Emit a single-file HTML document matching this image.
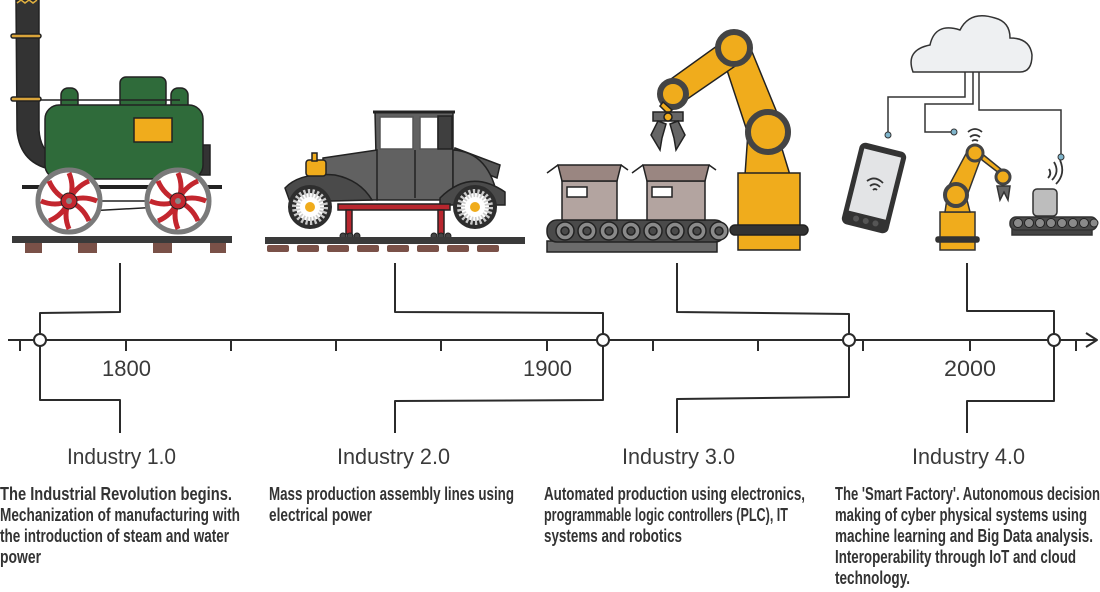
<!DOCTYPE html>
<html><head><meta charset="utf-8"><style>
html,body{margin:0;padding:0;background:#fff;}
svg{display:block;}
.d{font-family:"Liberation Sans Narrow","Liberation Sans",sans-serif;font-size:18px;font-weight:bold;fill:#333;}
.h{font-family:"Liberation Sans",sans-serif;font-size:22px;fill:#3a3a3a;}
</style></head><body>
<svg width="1100" height="592" viewBox="0 0 1100 592" xmlns="http://www.w3.org/2000/svg">
<g stroke="#2b2b2b" stroke-width="2" fill="none" stroke-linejoin="round">
<line x1="8" y1="340" x2="1096" y2="340"/>
<polyline points="1086,333 1097,340 1086,347"/>
<g>
<line x1="20" y1="340" x2="20" y2="351"/><line x1="126" y1="340" x2="126" y2="351"/>
<line x1="231" y1="340" x2="231" y2="351"/><line x1="336" y1="340" x2="336" y2="351"/>
<line x1="441" y1="340" x2="441" y2="351"/><line x1="547" y1="340" x2="547" y2="351"/>
<line x1="653" y1="340" x2="653" y2="351"/><line x1="758" y1="340" x2="758" y2="351"/>
<line x1="863" y1="340" x2="863" y2="351"/><line x1="970" y1="340" x2="970" y2="351"/>
<line x1="1076" y1="340" x2="1076" y2="351"/>
</g>
<polyline points="120,263 120,312 40,313 40,400 120,400 120,433"/>
<polyline points="395,263 395,312 603,313 603,400 395,401 395,433"/>
<polyline points="677,263 677,312 849,314 849,397 677,399 677,433"/>
<polyline points="967,263 967,311 1054,311 1054,401 967,401 967,433"/>
</g>
<g fill="#fff" stroke="#2b2b2b" stroke-width="2">
<circle cx="40" cy="340" r="6"/><circle cx="603" cy="340" r="6"/><circle cx="849" cy="340" r="6"/><circle cx="1054" cy="340" r="6"/>
</g>

<text class="h" x="102" y="376" textLength="49" lengthAdjust="spacingAndGlyphs">1800</text>
<text class="h" x="523" y="376" textLength="49" lengthAdjust="spacingAndGlyphs">1900</text>
<text class="h" x="944" y="376" textLength="52" lengthAdjust="spacingAndGlyphs">2000</text>
<text class="h" x="67" y="464" textLength="109" lengthAdjust="spacingAndGlyphs">Industry 1.0</text>
<text class="h" x="337" y="464" textLength="113" lengthAdjust="spacingAndGlyphs">Industry 2.0</text>
<text class="h" x="622" y="464" textLength="113" lengthAdjust="spacingAndGlyphs">Industry 3.0</text>
<text class="h" x="912" y="464" textLength="113" lengthAdjust="spacingAndGlyphs">Industry 4.0</text>
<g class="d">
<text x="0" y="500" textLength="232" lengthAdjust="spacingAndGlyphs">The Industrial Revolution begins.</text>
<text x="0" y="521" textLength="240" lengthAdjust="spacingAndGlyphs">Mechanization of manufacturing with</text>
<text x="0" y="542" textLength="229" lengthAdjust="spacingAndGlyphs">the introduction of steam and water</text>
<text x="0" y="563" textLength="41" lengthAdjust="spacingAndGlyphs">power</text>
<text x="269" y="500" textLength="245" lengthAdjust="spacingAndGlyphs">Mass production assembly lines using</text>
<text x="269" y="521" textLength="103" lengthAdjust="spacingAndGlyphs">electrical power</text>
<text x="544" y="500" textLength="261" lengthAdjust="spacingAndGlyphs">Automated production using electronics,</text>
<text x="544" y="521" textLength="244" lengthAdjust="spacingAndGlyphs">programmable logic controllers (PLC), IT</text>
<text x="544" y="542" textLength="138" lengthAdjust="spacingAndGlyphs">systems and robotics</text>
<text x="835" y="500" textLength="265" lengthAdjust="spacingAndGlyphs">The 'Smart Factory'. Autonomous decision</text>
<text x="835" y="521" textLength="252" lengthAdjust="spacingAndGlyphs">making of cyber physical systems using</text>
<text x="835" y="542" textLength="258" lengthAdjust="spacingAndGlyphs">machine learning and Big Data analysis.</text>
<text x="835" y="563" textLength="241" lengthAdjust="spacingAndGlyphs">Interoperability through IoT and cloud</text>
<text x="835" y="584" textLength="75" lengthAdjust="spacingAndGlyphs">technology.</text>
</g>

<!-- TRAIN -->
<g stroke="#222" stroke-width="1.5">
<path d="M16,0 L39,0 L39,130 Q40,150 55,158 L55,170 Q20,165 17,130 Z" fill="#333"/>
<path d="M17,3 l4,-3 l4,3 l4,-3 l4,3 l4,-3" stroke="#e0b040" fill="none"/>
<rect x="11" y="34" width="30" height="4" rx="2" fill="#d9a43a"/>
<rect x="11" y="97" width="30" height="4" rx="2" fill="#d9a43a"/>
<rect x="120" y="77" width="46" height="32" rx="6" fill="#2f6b3a"/>
<rect x="61" y="88" width="17" height="24" rx="7" fill="#2f6b3a"/>
<rect x="171" y="88" width="17" height="24" rx="7" fill="#2f6b3a"/>
<line x1="40" y1="100" x2="180" y2="100"/>
<rect x="200" y="145" width="10" height="30" fill="#333"/>
<rect x="45" y="105" width="158" height="74" rx="14" fill="#2f6b3a"/>
<rect x="134" y="118" width="38" height="24" fill="#f0ac1c"/>
<line x1="22" y1="187" x2="222" y2="187" stroke-width="4"/>
<line x1="70" y1="201" x2="178" y2="201"/>
<line x1="70" y1="212" x2="178" y2="206"/>
</g>
<g>
<circle cx="69" cy="201" r="31" fill="#fff" stroke="#7a7a7a" stroke-width="5"/>
<circle cx="178" cy="201" r="31" fill="#fff" stroke="#7a7a7a" stroke-width="5"/>
<g stroke="#c3262e" stroke-width="5" fill="none">
<path d="M69,201 q6,-14 0,-28 M69,201 q14,-6 28,0 M69,201 q-6,14 0,28 M69,201 q-14,6 -28,0 M69,201 q14,6 20,20 M69,201 q-14,-6 -20,-20 M69,201 q6,-14 20,-20 M69,201 q-6,14 -20,20"/>
<path d="M178,201 q6,-14 0,-28 M178,201 q14,-6 28,0 M178,201 q-6,14 0,28 M178,201 q-14,6 -28,0 M178,201 q14,6 20,20 M178,201 q-14,-6 -20,-20 M178,201 q6,-14 20,-20 M178,201 q-6,14 -20,20"/>
</g>
<circle cx="69" cy="201" r="8" fill="#c3262e" stroke="#222"/><circle cx="69" cy="201" r="3" fill="#888"/>
<circle cx="178" cy="201" r="8" fill="#c3262e" stroke="#222"/><circle cx="178" cy="201" r="3" fill="#888"/>
</g>
<rect x="12" y="236" width="220" height="7" fill="#3a3a3a"/>
<g fill="#7a5148">
<rect x="25" y="243" width="17" height="10"/><rect x="78" y="243" width="19" height="10"/>
<rect x="153" y="243" width="19" height="10"/><rect x="210" y="243" width="16" height="10"/>
</g>

<!-- CAR -->
<g stroke="#222" stroke-width="1.5">
<path d="M455,148 L500,165 L497,178 L452,160 Z" fill="#555"/>
<path d="M375,112 L453,112 L453,200 L377,200 Z" fill="#616161"/>
<rect x="380" y="117" width="33" height="32" fill="#fff" stroke="#555"/>
<rect x="420" y="117" width="18" height="32" fill="#fff" stroke="#555"/>
<rect x="438" y="116" width="14" height="33" fill="#3f3f3f"/>
<line x1="373" y1="112" x2="455" y2="112" stroke-width="3"/>
<path d="M323,158 L377,150 L377,200 L323,200 Z" fill="#616161"/>
<path d="M453,150 Q490,152 498,200 L453,200 Z" fill="#616161"/>
<path d="M285,188 Q300,172 335,175 Q360,180 372,200 L290,202 Z" fill="#4a4a4a"/>
<path d="M440,198 Q470,168 505,192 L505,205 L440,205 Z" fill="#4a4a4a"/>
<rect x="306" y="160" width="20" height="16" rx="3" fill="#f0ac1c"/>
<rect x="312" y="153" width="5" height="8" fill="#f0ac1c"/>
<line x1="415" y1="150" x2="415" y2="198"/>
<rect x="338" y="204" width="112" height="6" fill="#b8262e"/>
<rect x="346" y="210" width="6" height="24" fill="#b8262e"/>
<rect x="438" y="210" width="6" height="24" fill="#b8262e"/>
</g>
<g fill="#444" stroke="#222">
<circle cx="343" cy="236" r="3"/><circle cx="350" cy="236" r="3"/><circle cx="357" cy="236" r="3"/>
<circle cx="434" cy="236" r="3"/><circle cx="441" cy="236" r="3"/><circle cx="448" cy="236" r="3"/>
</g>
<g>
<circle cx="310" cy="207" r="22" fill="#2e2e2e"/><circle cx="310" cy="207" r="14" fill="#fff" stroke="#ccc" stroke-dasharray="2 2" stroke-width="8"/><circle cx="310" cy="207" r="5" fill="#f0ac1c"/>
<circle cx="475" cy="207" r="22" fill="#2e2e2e"/><circle cx="475" cy="207" r="14" fill="#fff" stroke="#ccc" stroke-dasharray="2 2" stroke-width="8"/><circle cx="475" cy="207" r="5" fill="#f0ac1c"/>
</g>
<rect x="265" y="237" width="260" height="7" fill="#3a3a3a"/>
<g fill="#7a5148">
<rect x="267" y="245" width="22" height="7" rx="2"/><rect x="297" y="245" width="22" height="7" rx="2"/><rect x="327" y="245" width="22" height="7" rx="2"/><rect x="357" y="245" width="22" height="7" rx="2"/><rect x="387" y="245" width="22" height="7" rx="2"/><rect x="417" y="245" width="22" height="7" rx="2"/><rect x="447" y="245" width="22" height="7" rx="2"/><rect x="477" y="245" width="22" height="7" rx="2"/>
</g>

<!-- FACTORY -->
<g stroke="#222" stroke-width="1.5">
<rect x="547" y="241" width="170" height="11" fill="#6b6b6b"/>
<rect x="547" y="220" width="178" height="22" rx="10" fill="#4a4a4a"/>
<g fill="#8a8a8a"><circle cx="565" cy="231" r="9"/><circle cx="587" cy="231" r="9"/><circle cx="609" cy="231" r="9"/><circle cx="631" cy="231" r="9"/><circle cx="653" cy="231" r="9"/><circle cx="675" cy="231" r="9"/><circle cx="697" cy="231" r="9"/><circle cx="719" cy="231" r="9"/></g>
<g fill="#4a4a4a"><circle cx="565" cy="231" r="4"/><circle cx="587" cy="231" r="4"/><circle cx="609" cy="231" r="4"/><circle cx="631" cy="231" r="4"/><circle cx="653" cy="231" r="4"/><circle cx="675" cy="231" r="4"/><circle cx="697" cy="231" r="4"/><circle cx="719" cy="231" r="4"/></g>
<rect x="562" y="181" width="55" height="39" fill="#b3a4a0"/>
<path d="M558,165 L621,165 L617,181 L562,181 Z" fill="#9a8681"/>
<path d="M558,165 L547,173 M621,165 L628,170"/>
<rect x="567" y="187" width="20" height="10" fill="#fff"/>
<rect x="647" y="181" width="58" height="39" fill="#b3a4a0"/>
<path d="M643,165 L709,165 L705,181 L647,181 Z" fill="#9a8681"/>
<path d="M643,165 L632,173 M709,165 L716,170"/>
<rect x="652" y="187" width="20" height="10" fill="#fff"/>
<path d="M745,175 L790,175 L775,126 L748,132 Z" fill="#f0ac1c"/>
<path d="M750,140 L782,125 L748,42 L722,55 Z" fill="#f0ac1c"/>
<path d="M728,38 L744,60 L680,104 L664,84 Z" fill="#f0ac1c"/>
<rect x="738" y="173" width="62" height="77" fill="#f0ac1c"/>
<rect x="730" y="225" width="78" height="10" rx="5" fill="#333"/>
<circle cx="768" cy="132" r="20" fill="#f0ac1c" stroke="#444" stroke-width="6"/>
<circle cx="734" cy="48" r="16" fill="#f0ac1c" stroke="#444" stroke-width="6"/>
<circle cx="673" cy="94" r="13" fill="#f0ac1c" stroke="#444" stroke-width="6"/>
<path d="M663,102 L672,110 L668,114 L660,106 Z" fill="#f0ac1c"/>
<rect x="653" y="112" width="30" height="9" fill="#666"/>
<circle cx="668" cy="117" r="4" fill="#f0ac1c"/>
<path d="M658,121 L651,135 L660,150 L662,138 L666,124 Z" fill="#666"/>
<path d="M678,121 L685,135 L676,150 L674,138 L670,124 Z" fill="#666"/>
</g>

<!-- INDUSTRY 4.0 -->
<path d="M913,72 Q905,50 930,45 Q935,22 960,30 Q970,10 995,18 Q1010,22 1010,38 Q1030,38 1032,55 Q1032,72 1020,72 Z" fill="#eef0f2" stroke="#333" stroke-width="1.5"/>
<g stroke="#333" stroke-width="1.5" fill="none">
<polyline points="965,72 965,97 888,97 888,133"/>
<polyline points="973,72 973,104 925,104 925,132 952,132"/>
<polyline points="979,72 979,110 1061,110 1061,156"/>
</g>
<g fill="#7fb5cc" stroke="#333"><circle cx="888" cy="135" r="3"/><circle cx="954" cy="132" r="3"/><circle cx="1061" cy="157" r="3"/></g>
<g transform="rotate(14 874 188)">
<rect x="850" y="146" width="48" height="84" rx="6" fill="#333"/>
<rect x="855" y="152" width="38" height="64" fill="#e3e4e6"/>
<circle cx="864" cy="222" r="3" fill="#555"/><circle cx="874" cy="222" r="3" fill="#555"/><circle cx="884" cy="222" r="3" fill="#555"/>
</g>
<g stroke="#333" stroke-width="1.8" fill="none">
<path d="M867,181 q8,-6 16,2 M870,186 q5,-4 10,1 M873,190 q2,-2 4,0"/>
<path d="M968,132 q7,-6 14,0 M970,137 q5,-4 10,0 M972,141 q3,-2 6,0"/>
<path d="M1052,180 q8,-8 2,-18 M1056,184 q10,-10 4,-24 M1048,178 q4,-4 1,-9"/>
</g>
<g stroke="#333" stroke-width="1.5">
<path d="M945,193 L968,193 L982,155 L968,150 Z" fill="#f0ac1c"/>
<path d="M975,148 L982,160 L1008,180 L1002,170 Z" fill="#f0ac1c"/>
<rect x="940" y="212" width="35" height="38" fill="#f0ac1c"/>
<path d="M945,212 L970,212 L965,192 L948,192 Z" fill="#f0ac1c"/>
<rect x="936" y="237" width="43" height="5" rx="2" fill="#333"/>
<circle cx="956" cy="195" r="11" fill="#f0ac1c" stroke="#444" stroke-width="4"/>
<circle cx="975" cy="153" r="8" fill="#f0ac1c" stroke="#444" stroke-width="3"/>
<circle cx="1003" cy="177" r="7" fill="#f0ac1c" stroke="#444" stroke-width="3"/>
<path d="M997,186 L1010,186 L1008,200 L1004,192 L1000,200 Z" fill="#666"/>
<rect x="1033" y="189" width="24" height="27" rx="4" fill="#bdbdbd"/>
<rect x="1012" y="229" width="80" height="6" fill="#444"/>
<rect x="1010" y="217" width="87" height="13" rx="6" fill="#4a4a4a"/>
</g>
<g fill="#8a8a8a" stroke="#222"><circle cx="1018" cy="223" r="4.5"/><circle cx="1029" cy="223" r="4.5"/><circle cx="1040" cy="223" r="4.5"/><circle cx="1051" cy="223" r="4.5"/><circle cx="1062" cy="223" r="4.5"/><circle cx="1073" cy="223" r="4.5"/><circle cx="1084" cy="223" r="4.5"/><circle cx="1094" cy="223" r="4"/></g>
</svg>
</body></html>
